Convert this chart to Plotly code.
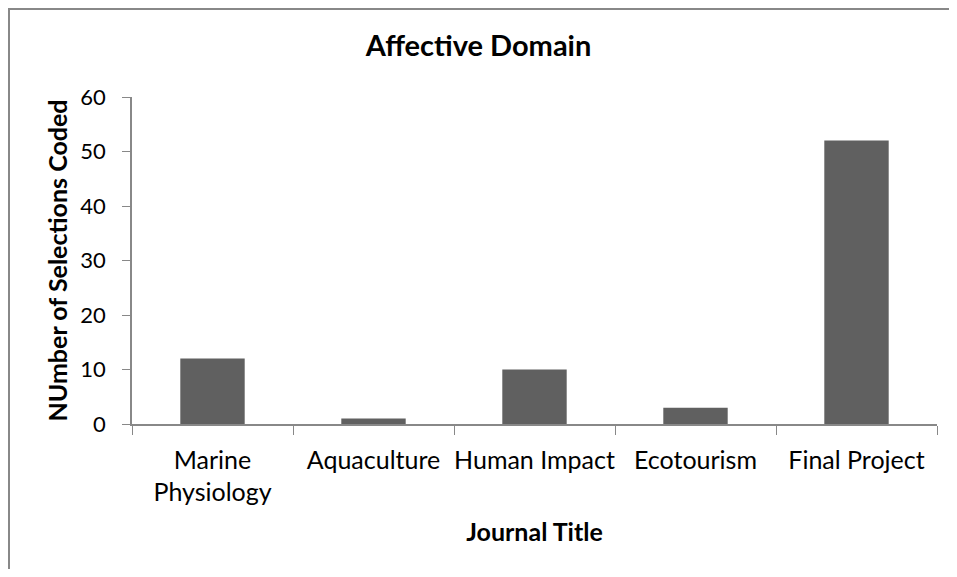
import plotly.graph_objects as go

categories = ["Marine<br>Physiology", "Aquaculture", "Human Impact", "Ecotourism", "Final Project"]
values = [12, 1, 10, 3, 52]
y_ticks = [0, 10, 20, 30, 40, 50, 60]

# page has an 8px body margin, so the figure is sized/placed to compensate
OFF = 8
W, H = 957 - 2 * OFF, 577 - 2 * OFF
L = 132 - OFF
T = 97 - OFF
R = W - (937 - OFF)
B = H - (424 - OFF)
pw, ph = W - L - R, H - T - B

def px_x(x):
    return (x - OFF - L) / pw

def px_y(y):
    return (H - B - (y - OFF)) / ph

fig = go.Figure(go.Bar(x=categories, y=values, marker=dict(color="#606060", line=dict(width=0))))

fig.update_layout(
    width=W, height=H,
    margin=dict(l=L, r=R, t=T, b=B, autoexpand=False),
    paper_bgcolor="white", plot_bgcolor="white",
    font=dict(family="Lato", color="#000000", size=25),
    bargap=0.6,
    showlegend=False,
    title=dict(text="<b>Affective Domain</b>", x=0.5, xanchor="center",
               y=1 - (46 - OFF) / H, yanchor="middle",
               font=dict(size=29, family="Lato")),
    shapes=[dict(type="rect", xref="paper", yref="paper",
                 x0=px_x(OFF + 1), x1=px_x(990), y0=px_y(600), y1=px_y(OFF + 1),
                 line=dict(color="#888888", width=2), layer="below")],
)
fig.update_xaxes(
    showline=True, linecolor="#888888", linewidth=1.5,
    ticks="outside", ticklen=9, tickcolor="#888888", tickson="boundaries",
    showgrid=False, ticklabelstandoff=13, tickangle=0, automargin=False,
    tickfont=dict(size=25),
    title=dict(text="<b>Journal Title</b>", font=dict(size=25), standoff=18),
)
fig.update_yaxes(
    range=[0, 60], tickvals=y_ticks,
    showline=True, linecolor="#888888", linewidth=1.5,
    ticks="outside", ticklen=8, tickcolor="#888888", automargin=False,
    showgrid=False, zeroline=False, ticklabelstandoff=12,
    tickfont=dict(size=22),
    title=dict(text="<b>NUmber of Selections Coded</b>", font=dict(size=25), standoff=6),
)

fig.write_html("out.html")
